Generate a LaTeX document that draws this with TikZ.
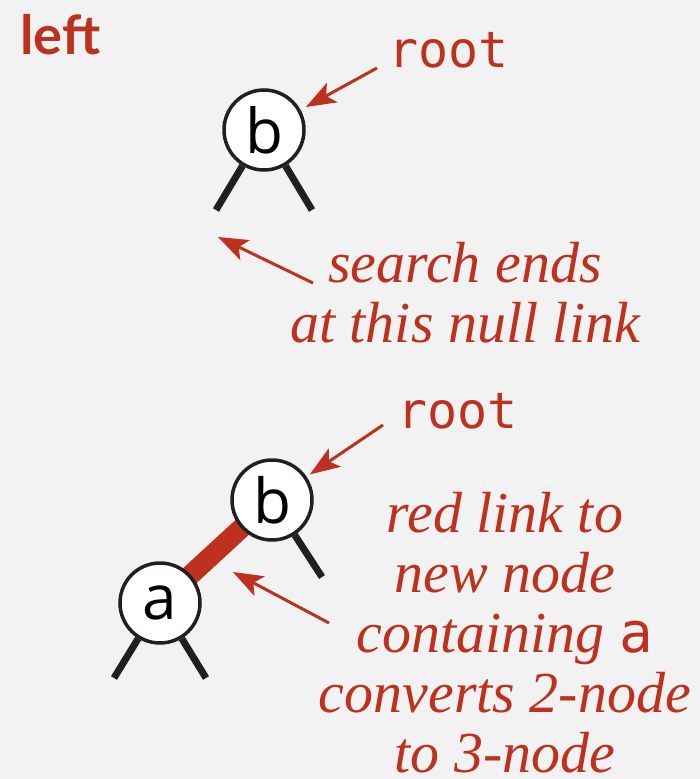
\documentclass[tikz,border=0pt]{standalone}
\usepackage{fontspec}
\setmainfont{Liberation Serif}
\newfontfamily\keyfont{Open Sans}
\newfontfamily\codefont{DejaVu Sans Mono}
\newfontfamily\headfont{Lato}
\usetikzlibrary{trees, arrows.meta, backgrounds}

\definecolor{bookred}{RGB}{191,49,31}
\definecolor{linkblack}{RGB}{35,31,32}
\definecolor{paper}{RGB}{242,242,242}

\tikzset{
  vertex/.style={circle, draw=linkblack, fill=white, line width=3.5pt, minimum size=80pt, inner sep=0pt, font=\keyfont\fontsize{62}{62}\selectfont},
  nulllink/.style={draw=linkblack, line width=7pt},
  redlink/.style={draw=bookred, line width=20pt},
  pointer/.style={draw=bookred, line width=3pt, -{Stealth[length=30pt, width=22pt, inset=7pt]}},
  code/.style={text=bookred, inner sep=0pt, anchor=base west, font=\codefont\fontsize{50}{50}\selectfont},
  note/.style={text=bookred, inner sep=0pt, align=center, anchor=base, font=\itshape\fontsize{58}{60}\selectfont}
}

\begin{document}
\begin{tikzpicture}[x=1pt, y=-1pt, edge from parent/.style={nulllink}]
\useasboundingbox (0,0) rectangle (700,779);

\node[text=bookred, anchor=base west, inner sep=0pt, font=\headfont\bfseries\fontsize{54}{54}\selectfont] (title) at (20,54) {left};

% search for a in the tree with only b
\begin{scope}[level distance=80pt, sibling distance=96pt]
\node[vertex] (b1) at (264,130) {b}
  child {coordinate (n1)}
  child {coordinate (n2)};
\end{scope}
\node[code] (root1) at (388,67) {root};
\coordinate (t1) at (377,68);
\draw[pointer, shorten >=6pt] (t1) -- (b1);

% base of a node with two lines is its last line
\node[note] (search) at (465,342) {search ends\\at this null link};
\coordinate (s1) at (313,283);
\coordinate (s2) at (218,237);
\draw[pointer] (s1) -- (s2);

% after the insert
\begin{scope}[level distance=77pt, sibling distance=100pt]
\node[vertex] (b2) at (272,500) {b}
  child[missing]
  child {coordinate (n3)};
\end{scope}
\begin{scope}[level distance=75pt, sibling distance=92pt]
\node[vertex] (a) at (160,603) {a}
  child {coordinate (n4)}
  child {coordinate (n5)};
\end{scope}
\node[code] (root2) at (397,428) {root};
\coordinate (t2) at (383,425);
\draw[pointer, shorten >=4pt] (t2) -- (b2);

\node[note] (convert) at (505,772) {red link to\\new node\\containing {\upshape\codefont\fontsize{56}{60}\selectfont a}\\converts 2-node\\to 3-node};
\coordinate (c1) at (329,623);
\coordinate (c2) at (233,572);
\draw[pointer] (c1) -- (c2);

\begin{pgfonlayer}{background}
  \fill[paper] (0,0) rectangle (700,779);
  \draw[redlink] (a.center) -- (b2.center);
\end{pgfonlayer}
\end{tikzpicture}
\end{document}
